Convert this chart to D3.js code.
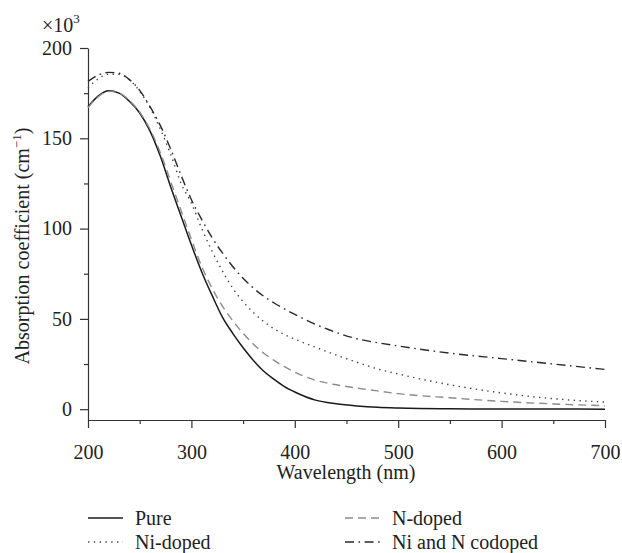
<!doctype html>
<html>
<head>
<meta charset="utf-8">
<script src="https://d3js.org/d3.v7.min.js"></script>
</head>
<body style="margin:0">
<script>
  // wavelength (nm) and absorption coefficient (x10^3 cm^-1)
  var wavelength = [200,210,220,230,240,250,260,270,280,290,300,310,320,330,340,350,360,370,380,390,400,420,440,460,480,500,550,600,650,700];
  var pure =      [167.5,173.5,176.3,175,170.5,164,154,140,123,107,91,76,63,51,42,34,27,21,16.5,12.5,9.5,5,3,1.8,1,0.6,0.2,0.1,0.05,0];
  var nDoped =    [167,173,176,175,171,164.5,155,142,126,110,94,79,67,57,49,42,36,31,27,23.5,20.5,16,13.5,11.7,10.1,8.6,6.3,4.3,2.9,1.9];
  var niDoped =   [178,183,185.5,185.5,182.5,176,167,155,141,125,114,100,87.5,76.5,67,59.5,53.5,48.5,44.5,41.3,38.8,34.3,30,26,22.3,19.5,13.5,9,5.8,3.9];
  var coDoped =   [181.5,185,186.5,186,182.5,176.5,167.5,157,144,129.5,116,105,95,86.5,79,72.5,67,62.5,58.8,55.5,52.5,47,42.5,39,36.8,35,31,28,25,22];

  var seriesNames = ["Pure", "N-doped", "Ni-doped", "Ni and N codoped"];
  var xTicks = [200,300,400,500,600,700];
  var xMinor = [250,350,450,550,650];
  var yTicks = [0,50,100,150,200];
  var yMinor = [25,75,125,175];

  var colors = ["#1a1a1a", "#8c8c8c", "#444", "#2a2a2a"];
  var dashes = [null, "8,5", "1.4,4.4", "9,4.5,1.6,4.5"];
  var values = [pure, nDoped, niDoped, coDoped];

  var svg = d3.select("body").append("svg")
      .attr("width", 622)
      .attr("height", 553)
      .attr("font-family", "Liberation Serif")
      .attr("font-size", 20);

  var x = d3.scaleLinear().domain([200, 700]).range([88, 605]);
  var y = d3.scaleLinear().domain([-6, 200]).range([420, 48]);

  // axes
  var gy = svg.append("g")
      .attr("transform", "translate(88,0)")
      .call(d3.axisLeft(y).tickValues(yTicks).tickSize(8).tickSizeOuter(0).tickPadding(8));
  svg.append("g")
      .attr("transform", "translate(88,0)")
      .call(d3.axisLeft(y).tickValues(yMinor).tickSize(4).tickFormat(""))
      .select(".domain").remove();
  var gx = svg.append("g")
      .attr("transform", "translate(0,420)")
      .call(d3.axisBottom(x).tickValues(xTicks).tickSize(8).tickSizeOuter(0).tickPadding(17));
  svg.append("g")
      .attr("transform", "translate(0,420)")
      .call(d3.axisBottom(x).tickValues(xMinor).tickSize(4).tickFormat(""))
      .select(".domain").remove();

  svg.selectAll("g").attr("font-family", "Liberation Serif").attr("font-size", 20);
  svg.selectAll(".domain, .tick line").attr("stroke", "#333").attr("stroke-width", 1.2);

  // curves
  var line = d3.line()
      .x(function(d, i) { return x(wavelength[i]); })
      .y(function(d) { return y(d); })
      .curve(d3.curveMonotoneX);

  svg.selectAll(".curve")
    .data(values)
    .enter()
    .append("path")
      .attr("class", "curve")
      .attr("d", function(d) { return line(d); })
      .attr("fill", "none")
      .attr("stroke", function(d, i) { return colors[i]; })
      .attr("stroke-width", function(d, i) { return i == 0 ? 1.5 : 1.4; })
      .attr("stroke-dasharray", function(d, i) { return dashes[i]; });

  // legend
  var legendPos = [[88, 518], [345, 518], [88, 542], [345, 542]];
  svg.selectAll(".legline")
    .data(seriesNames)
    .enter()
    .append("line")
      .attr("x1", function(d, i) { return legendPos[i][0]; })
      .attr("x2", function(d, i) { return legendPos[i][0] + 35; })
      .attr("y1", function(d, i) { return legendPos[i][1]; })
      .attr("y2", function(d, i) { return legendPos[i][1]; })
      .attr("stroke", function(d, i) { return colors[i]; })
      .attr("stroke-width", 1.4)
      .attr("stroke-dasharray", function(d, i) { return dashes[i]; });
  svg.selectAll(".legtext")
    .data(seriesNames)
    .enter()
    .append("text")
      .attr("x", function(d, i) { return legendPos[i][0] + 47; })
      .attr("y", function(d, i) { return legendPos[i][1] + 7; })
      .text(function(d) { return d; });

  // titles
  svg.append("text")
      .attr("x", 346)
      .attr("y", 479)
      .attr("text-anchor", "middle")
      .text("Wavelength (nm)");

  var mult = svg.append("text").attr("x", 42).attr("y", 32);
  mult.append("tspan").text("\u00d710");
  mult.append("tspan").attr("dy", -9).attr("font-size", 13).text("3");

  var yt = svg.append("text")
      .attr("transform", "translate(29,246) rotate(-90)")
      .attr("text-anchor", "middle");
  yt.append("tspan").text("Absorption coefficient (cm");
  yt.append("tspan").attr("dy", -8).attr("font-size", 13).text("\u22121");
  yt.append("tspan").attr("dy", 8).text(")");

  svg.selectAll("text")
      .attr("font-family", "Liberation Serif")
      .attr("fill", "#222");
</script>
</body>
</html>
